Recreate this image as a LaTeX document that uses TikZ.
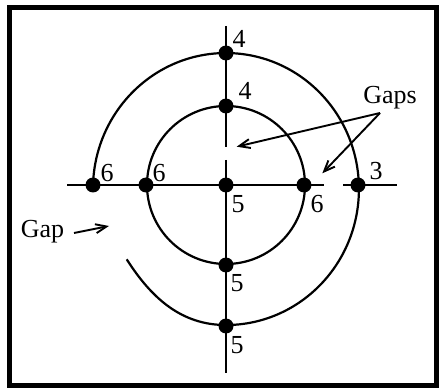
\documentclass[tikz,border=0pt]{standalone}
\usepackage{fontspec}
\setmainfont{Liberation Serif}
\usetikzlibrary{arrows.meta, positioning}

\begin{document}
\begin{tikzpicture}[
  x=1pt, y=1pt,
  dot/.style={circle, fill=black, inner sep=0pt, minimum size=15pt},
  num/.style={font=\fontsize{26}{30}\selectfont, inner sep=0pt},
  curve/.style={line width=2.2pt},
  axis/.style={line width=2.2pt},
  ptr/.style={line width=1.9pt, -{Straight Barb[length=11pt, width=9pt, line width=1.9pt]}}
]

% Frame
\useasboundingbox (0,0) rectangle (445,389);
\draw[line width=5pt] (9.5,3.5) rectangle (436.5,381.5);

% Crossing points
\node[dot] (otop) at (226,336) {};
\node[dot] (itop) at (226,283) {};
\node[dot] (oleft) at (93,204) {};
\node[dot] (ileft) at (146,204) {};
\node[dot] (mid) at (226,204) {};
\node[dot] (iright) at (304,204) {};
\node[dot] (oright) at (358,204) {};
\node[dot] (ibot) at (226,124) {};
\node[dot] (obot) at (226,63) {};

% Axes, each broken once
\coordinate (vtop) at (226,363);
\coordinate (vcut1) at (226,242);
\coordinate (vcut2) at (226,229);
\coordinate (vbot) at (226,16);
\coordinate (hleft) at (67,204);
\coordinate (hcut1) at (324,204);
\coordinate (hcut2) at (343,204);
\coordinate (hright) at (397,204);
\draw[axis] (vtop) -- (vcut1);
\draw[axis] (vcut2) -- (vbot);
\draw[axis] (hleft) -- (hcut1);
\draw[axis] (hcut2) -- (hright);

% Inner circle
\draw[curve] (mid.center) circle[radius=79];

% Outer turn, open at lower left
\coordinate (tail) at (126.7,129.7);
\draw[curve] (oleft.center) arc[start angle=178.3, end angle=-90, x radius=133, y radius=136]
  .. controls (182,64) and (152,90) .. (tail);

% Counts
\node[num] (notop) at ([xshift=13pt, yshift=14pt]otop) {4};
\node[num] (nitop) at ([xshift=19pt, yshift=15pt]itop) {4};
\node[num] (noleft) at ([xshift=14pt, yshift=12pt]oleft) {6};
\node[num] (nileft) at ([xshift=13pt, yshift=12pt]ileft) {6};
\node[num] (nmid) at ([xshift=12pt, yshift=-19pt]mid) {5};
\node[num] (niright) at ([xshift=13pt, yshift=-19pt]iright) {6};
\node[num] (noright) at ([xshift=18pt, yshift=14pt]oright) {3};
\node[num] (nibot) at ([xshift=11pt, yshift=-18pt]ibot) {5};
\node[num] (nobot) at ([xshift=11pt, yshift=-19pt]obot) {5};

% Gap labels
\node[num] (gaps) at (390,291) {Gaps};
\coordinate (gapsfoot) at (380,276);
\coordinate (tipa) at (236.7,242.3);
\coordinate (tipb) at (322.3,215.7);
\draw[ptr] (gapsfoot) -- (tipa);
\draw[ptr] (gapsfoot) -- (tipb);

\node[num] (gap) at (42.5,157.5) {Gap};
\coordinate (gapfoot) at (74,156);
\coordinate (tipc) at (109,163);
\draw[ptr] (gapfoot) -- (tipc);

\end{tikzpicture}
\end{document}
